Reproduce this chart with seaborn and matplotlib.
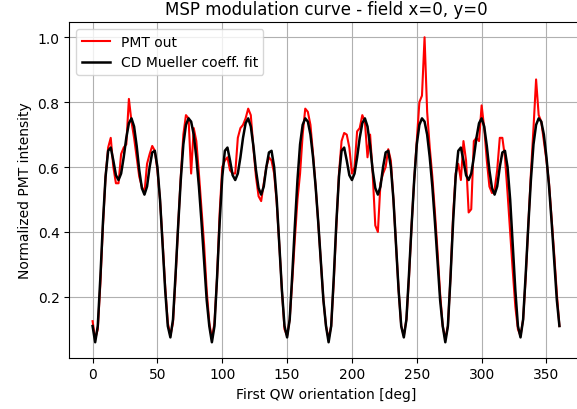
import matplotlib
matplotlib.use("Agg")
import matplotlib.pyplot as plt
import seaborn as sns

# first QW plate orientation, sampled every 2 deg
angle_deg = list(range(0, 361, 2))

pmt_out = [
    0.125, 0.07, 0.10, 0.24, 0.42, 0.57, 0.66, 0.69, 0.60, 0.55,   # 0-18
    0.55, 0.64, 0.66, 0.67, 0.81, 0.74, 0.69, 0.63, 0.57, 0.54,    # 20-38
    0.52, 0.61, 0.64, 0.665, 0.65, 0.59, 0.50, 0.37, 0.23, 0.12,   # 40-58
    0.08, 0.12, 0.26, 0.42, 0.57, 0.70, 0.76, 0.75, 0.58, 0.72,    # 60-78
    0.68, 0.58, 0.47, 0.36, 0.22, 0.12, 0.07, 0.12, 0.26, 0.46,    # 80-98
    0.60, 0.62, 0.63, 0.59, 0.58, 0.58, 0.69, 0.72, 0.73, 0.75,    # 100-118
    0.78, 0.76, 0.66, 0.57, 0.51, 0.495, 0.55, 0.60, 0.63, 0.62,   # 120-138
    0.58, 0.49, 0.36, 0.22, 0.10, 0.08, 0.13, 0.25, 0.38, 0.50,    # 140-158
    0.58, 0.70, 0.78, 0.77, 0.73, 0.64, 0.54, 0.43, 0.31, 0.19,    # 160-178
    0.11, 0.07, 0.11, 0.25, 0.42, 0.58, 0.68, 0.705, 0.70, 0.66,   # 180-198
    0.58, 0.60, 0.71, 0.72, 0.76, 0.74, 0.63, 0.70, 0.58, 0.42,    # 200-218
    0.40, 0.55, 0.58, 0.60, 0.655, 0.62, 0.50, 0.36, 0.22, 0.11,   # 220-238
    0.08, 0.13, 0.26, 0.42, 0.56, 0.68, 0.80, 0.82, 1.00, 0.77,    # 240-258
    0.66, 0.57, 0.46, 0.34, 0.21, 0.11, 0.07, 0.11, 0.26, 0.45,    # 260-278
    0.58, 0.61, 0.56, 0.68, 0.62, 0.46, 0.47, 0.68, 0.69, 0.68,    # 280-298
    0.79, 0.72, 0.62, 0.54, 0.52, 0.53, 0.59, 0.69, 0.69, 0.63,    # 300-318
    0.52, 0.40, 0.28, 0.17, 0.10, 0.08, 0.13, 0.26, 0.42, 0.58,    # 320-338
    0.72, 0.87, 0.76, 0.74, 0.68, 0.62, 0.55, 0.44, 0.33, 0.21,    # 340-358
    0.11,                                                          # 360
]

# CD Mueller coefficient fit
mueller_fit = [
    0.11, 0.06, 0.11, 0.26, 0.43, 0.57, 0.65, 0.66, 0.62, 0.575,   # 0-18
    0.56, 0.58, 0.63, 0.69, 0.735, 0.75, 0.725, 0.665, 0.59, 0.535,
    0.515, 0.54, 0.60, 0.645, 0.65, 0.60, 0.50, 0.36, 0.22, 0.11,
    0.075, 0.13, 0.27, 0.42, 0.56, 0.67, 0.73, 0.75, 0.74, 0.70,
    0.63, 0.54, 0.43, 0.31, 0.19, 0.11, 0.06, 0.11, 0.26, 0.43,    # 80-98
    0.57, 0.65, 0.66, 0.62, 0.575, 0.56, 0.58, 0.63, 0.69, 0.735,
    0.75, 0.725, 0.665, 0.59, 0.535, 0.515, 0.54, 0.60, 0.645, 0.65,
    0.60, 0.50, 0.36, 0.22, 0.11, 0.075, 0.13, 0.27, 0.42, 0.56,
    0.67, 0.73, 0.75, 0.74, 0.70, 0.63, 0.54, 0.43, 0.31, 0.19,
    0.11, 0.06, 0.11, 0.26, 0.43, 0.57, 0.65, 0.66, 0.62, 0.575,   # 180-198
    0.56, 0.58, 0.63, 0.69, 0.735, 0.75, 0.725, 0.665, 0.59, 0.535,
    0.515, 0.54, 0.60, 0.645, 0.65, 0.60, 0.50, 0.36, 0.22, 0.11,
    0.075, 0.13, 0.27, 0.42, 0.56, 0.67, 0.73, 0.75, 0.74, 0.70,
    0.63, 0.54, 0.43, 0.31, 0.19, 0.11, 0.06, 0.11, 0.26, 0.43,    # 260-278
    0.57, 0.65, 0.66, 0.62, 0.575, 0.56, 0.58, 0.63, 0.69, 0.735,
    0.75, 0.725, 0.665, 0.59, 0.535, 0.515, 0.54, 0.60, 0.645, 0.65,
    0.60, 0.50, 0.36, 0.22, 0.11, 0.075, 0.13, 0.27, 0.42, 0.56,
    0.67, 0.73, 0.75, 0.74, 0.70, 0.63, 0.54, 0.43, 0.31, 0.19,
    0.11,                                                          # 360
]

fig = plt.figure(figsize=(5.77, 4.10), dpi=100)
# axes runs a bit past the right edge, like the cropped original
ax = fig.add_axes([0.120, 0.1256, 0.890, 0.8183])

sns.lineplot(x=angle_deg, y=pmt_out, color="red", linewidth=1.5,
             label="PMT out", estimator=None, ax=ax)
sns.lineplot(x=angle_deg, y=mueller_fit, color="black", linewidth=1.8,
             label="CD Mueller coeff. fit", estimator=None, ax=ax)

ax.grid(True)
ax.set_title("MSP modulation curve - field x=0, y=0")
ax.set_xlabel("First QW orientation [deg]")
ax.set_ylabel("Normalized PMT intensity")
ax.legend(loc="upper left")

fig.savefig("out.png", dpi=100)
